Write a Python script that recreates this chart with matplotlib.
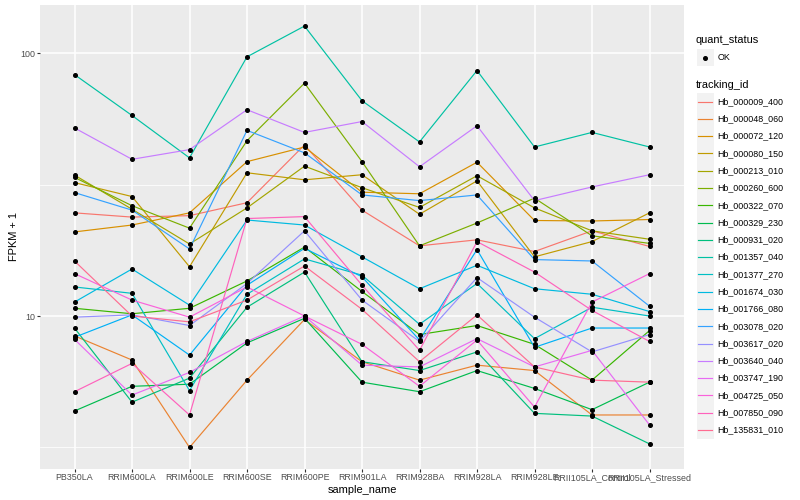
import numpy as np
import matplotlib
matplotlib.use("Agg")
import matplotlib.pyplot as plt
from matplotlib.patches import Rectangle
from matplotlib.lines import Line2D
from matplotlib.ticker import FixedLocator, NullFormatter

plt.rcParams['font.family'] = ['Liberation Sans', 'DejaVu Sans']

sample_names = ["PB350LA", "RRIM600LA", "RRIM600LE", "RRIM600SE", "RRIM600PE",
                "RRIM901LA", "RRIM928BA", "RRIM928LA", "RRIM928LE",
                "RRII105LA_Control", "RRII105LA_Stressed"]

tracking_ids = ["Hb_000009_400", "Hb_000048_060", "Hb_000072_120", "Hb_000080_150",
                "Hb_000213_010", "Hb_000260_600", "Hb_000322_070", "Hb_000329_230",
                "Hb_000931_020", "Hb_001357_040", "Hb_001377_270", "Hb_001674_030",
                "Hb_001766_080", "Hb_003078_020", "Hb_003617_020", "Hb_003640_040",
                "Hb_003747_190", "Hb_004725_050", "Hb_007850_090", "Hb_135831_010"]

# FPKM + 1 per sample (order of sample_names)
hb_000009_400 = [24.7, 23.8, 24.1, 27.0, 44.8, 25.3, 18.5, 19.5, 17.6, 21.1, 18.4]
hb_000048_060 = [8.4, 6.8, 3.16, 5.7, 9.7, 6.7, 5.7, 6.5, 6.2, 4.2, 4.2]
hb_000072_120 = [20.9, 22.2, 24.7, 38.7, 44.0, 29.6, 29.2, 38.5, 23.1, 23.0, 23.3]
hb_000080_150 = [32.2, 28.5, 15.4, 35.1, 33.0, 34.5, 24.4, 32.7, 16.8, 19.2, 24.7]
hb_000213_010 = [34.4, 25.5, 18.8, 25.8, 37.2, 30.8, 25.9, 34.2, 25.8, 21.1, 19.6]
hb_000260_600 = [33.7, 26.3, 21.6, 46.5, 77.0, 38.7, 18.5, 22.6, 28.1, 20.2, 18.9]
hb_000322_070 = [10.7, 10.2, 10.7, 13.6, 18.3, 12.4, 8.5, 9.2, 7.8, 5.7, 8.8]
hb_000329_230 = [4.35, 5.4, 5.5, 7.9, 9.8, 5.6, 5.15, 6.2, 5.3, 4.4, 5.6]
hb_000931_020 = [9.0, 4.7, 5.8, 10.8, 14.7, 6.7, 6.2, 7.3, 4.26, 4.16, 3.26]
hb_001357_040 = [83.0, 58.0, 40.0, 97.0, 127.0, 66.0, 46.0, 86.0, 44.0, 50.0, 44.0]
hb_001377_270 = [12.9, 12.2, 5.2, 12.1, 16.5, 14.3, 9.3, 13.3, 8.2, 10.8, 10.0]
hb_001674_030 = [11.3, 15.1, 11.0, 23.2, 22.2, 16.8, 12.7, 15.6, 12.7, 12.1, 10.4]
hb_001766_080 = [8.3, 10.1, 7.1, 13.1, 18.1, 14.1, 8.1, 17.9, 7.6, 9.0, 9.0]
hb_003078_020 = [29.5, 25.3, 18.0, 50.9, 41.8, 28.9, 27.5, 28.9, 16.4, 16.2, 10.9]
hb_003617_020 = [9.9, 10.1, 9.2, 13.3, 21.1, 11.5, 8.0, 14.0, 9.9, 7.3, 8.5]
hb_003640_040 = [52.0, 39.5, 43.0, 61.0, 50.0, 55.0, 37.0, 53.0, 27.5, 31.0, 34.5]
hb_003747_190 = [8.15, 5.0, 6.1, 8.0, 10.0, 6.5, 6.4, 8.2, 6.4, 7.4, 3.85]
hb_004725_050 = [14.5, 11.5, 9.9, 12.9, 10.0, 7.8, 5.4, 8.1, 4.5, 11.3, 14.5]
hb_007850_090 = [5.15, 6.6, 4.2, 23.5, 23.9, 13.1, 7.4, 19.2, 14.7, 10.5, 8.0]
hb_135831_010 = [16.2, 10.0, 9.5, 11.5, 15.5, 10.6, 6.7, 10.1, 6.4, 5.7, 5.6]

series = [hb_000009_400, hb_000048_060, hb_000072_120, hb_000080_150, hb_000213_010,
          hb_000260_600, hb_000322_070, hb_000329_230, hb_000931_020, hb_001357_040,
          hb_001377_270, hb_001674_030, hb_001766_080, hb_003078_020, hb_003617_020,
          hb_003640_040, hb_003747_190, hb_004725_050, hb_007850_090, hb_135831_010]

quant_status = ["OK"]

palette = ["#F8766D", "#EA8331", "#D89000", "#C09B00", "#A3A500", "#7CAE00", "#39B600",
           "#00BB4E", "#00BF7D", "#00C1A3", "#00BFC4", "#00BAE0", "#00B0F6", "#35A2FF",
           "#9590FF", "#C77CFF", "#E76BF3", "#FA62DB", "#FF62BC", "#FF6C91"]

W, H = 800, 500
fig = plt.figure(figsize=(W / 100, H / 100), dpi=100)
px_l, px_r, px_t, px_b = 40, 684, 5, 468.5
ax = fig.add_axes([px_l / W, 1 - px_b / H, (px_r - px_l) / W, (px_b - px_t) / H])
ax.set_facecolor("#EBEBEB")
for s in ax.spines.values():
    s.set_visible(False)

x = np.arange(len(sample_names))
for vals, col in zip(series, palette):
    ax.plot(x, vals, color=col, lw=0.85, zorder=3, solid_capstyle='butt')
for vals in series:
    ax.plot(x, vals, linestyle='none', marker='o', ms=2.6, color='black', zorder=4)

ax.set_yscale('log')
allv = np.log10(np.concatenate([np.array(v) for v in series]))
lo, hi = allv.min(), allv.max()
pad = 0.05 * (hi - lo)
ax.set_ylim(10 ** (lo - pad), 10 ** (hi + pad))
ax.set_xlim(-0.6, len(sample_names) - 1 + 0.6)

ax.yaxis.set_major_locator(FixedLocator([10, 100]))
ax.set_yticklabels(["10", "100"])
ax.yaxis.set_minor_locator(FixedLocator([10 ** 0.5, 10 ** 1.5]))
ax.yaxis.set_minor_formatter(NullFormatter())
ax.set_xticks(x)
ax.set_xticklabels(sample_names)

ax.grid(True, which='major', color='white', lw=1.1, zorder=0)
ax.grid(True, which='minor', axis='y', color='white', lw=0.55, zorder=0)
ax.set_axisbelow(True)

ax.tick_params(axis='both', which='major', length=2.0, width=0.8, color='#333333',
               labelsize=6.4, labelcolor='#4D4D4D', pad=1.6)
ax.tick_params(axis='y', which='minor', length=0)

ax.set_xlabel("sample_name", fontsize=7.9, labelpad=1.5)
ax.set_ylabel("FPKM + 1", fontsize=7.9, labelpad=1.0)

# legends (ggplot style, drawn in pixel coordinates)
def fx(p):
    return p / W

def fy(p):
    return 1 - p / H

key = 17.28
lx = 696.5
fig.text(fx(lx - 0.5), fy(40), "quant_status", fontsize=7.9, va='center', ha='left')
y0 = 49
fig.add_artist(Rectangle((fx(lx), fy(y0 + key)), key / W, key / H,
                         transform=fig.transFigure, facecolor='#F2F2F2', edgecolor='none'))
fig.add_artist(Line2D([fx(lx + key / 2)], [fy(y0 + key / 2)], marker='o', ms=2.6,
                      color='black', linestyle='none', transform=fig.transFigure))
fig.text(fx(lx + key + 3.5), fy(y0 + key / 2), quant_status[0], fontsize=6.4,
         va='center', ha='left')

fig.text(fx(lx - 0.5), fy(84.5), "tracking_id", fontsize=7.9, va='center', ha='left')
y1 = 93
for i, (tid, col) in enumerate(zip(tracking_ids, palette)):
    top = y1 + i * key
    fig.add_artist(Rectangle((fx(lx), fy(top + key)), key / W, key / H,
                             transform=fig.transFigure, facecolor='#F2F2F2',
                             edgecolor='none'))
    fig.add_artist(Line2D([fx(lx + 1.8), fx(lx + key - 1.8)],
                          [fy(top + key / 2)] * 2, color=col, lw=0.85,
                          transform=fig.transFigure))
    fig.text(fx(lx + key + 3.5), fy(top + key / 2), tid, fontsize=6.4,
             va='center', ha='left')

fig.savefig("out.png", dpi=100, facecolor='white')
